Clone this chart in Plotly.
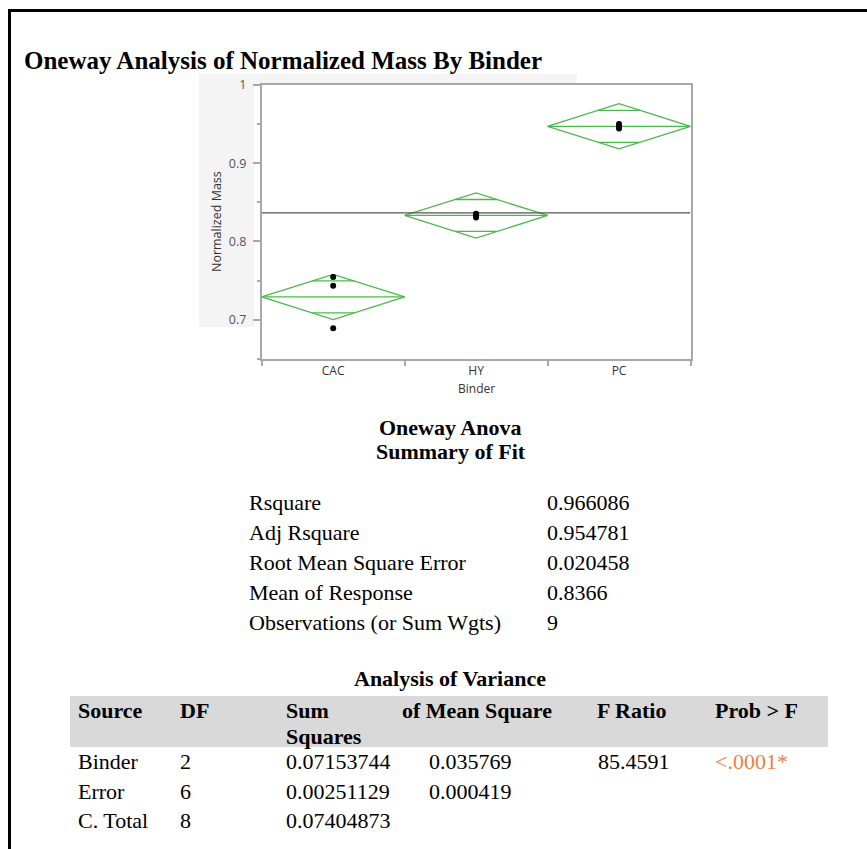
import plotly.graph_objects as go
import math

# ---------------- data ----------------
categories = ["CAC", "HY", "PC"]
cac_values = [0.7545, 0.7434, 0.6890]
hy_values = [0.8355, 0.8335, 0.8305]
pc_values = [0.9500, 0.9470, 0.9445]
group_values = [cac_values, hy_values, pc_values]
grand_mean = 0.8366
rmse = 0.020458
t_crit = 2.4469  # t(0.975, df=6)

y_tick_vals = [0.7, 0.8, 0.9, 1.0]
y_tick_text = ["0.7", "0.8", "0.9", "1"]

summary_labels = ["Rsquare", "Adj Rsquare", "Root Mean Square Error",
                  "Mean of Response", "Observations (or Sum Wgts)"]
summary_values = ["0.966086", "0.954781", "0.020458", "0.8366", "9"]

anova_source = ["Binder", "Error", "C. Total"]
anova_df = ["2", "6", "8"]
anova_ss = ["0.07153744", "0.00251129", "0.07404873"]
anova_ms = ["0.035769", "0.000419", ""]
anova_f = ["85.4591", "", ""]
anova_p = ["<.0001*", "", ""]

# ---------------- figure ----------------
W, H = 867, 849
def px(x):
    return x / W
def py(y):
    return 1 - y / H

GREEN = "#4cb84c"
fig = go.Figure()

for i, vals in enumerate(group_values):
    n = len(vals)
    m = sum(vals) / n
    ci = t_crit * rmse / math.sqrt(n)
    ov = ci / math.sqrt(2)
    half = 0.5
    fig.add_trace(go.Scatter(
        x=[i - half, i, i + half, i, i - half],
        y=[m, m + ci, m, m - ci, m],
        mode="lines", line=dict(color=GREEN, width=1.3),
        hoverinfo="skip", showlegend=False))
    fig.add_trace(go.Scatter(
        x=[i - half, i + half], y=[m, m],
        mode="lines", line=dict(color=GREEN, width=1.3),
        hoverinfo="skip", showlegend=False))
    w = half * (1 - ov / ci)
    for s in (1, -1):
        fig.add_trace(go.Scatter(
            x=[i - w, i + w], y=[m + s * ov, m + s * ov],
            mode="lines", line=dict(color=GREEN, width=1.3),
            hoverinfo="skip", showlegend=False))

fig.add_trace(go.Scatter(
    x=[-0.5, 2.5], y=[grand_mean, grand_mean], mode="lines",
    line=dict(color="#555555", width=1.2), hoverinfo="skip", showlegend=False))

xs, ys = [], []
for i, vals in enumerate(group_values):
    for v in vals:
        xs.append(i)
        ys.append(v)
fig.add_trace(go.Scatter(x=xs, y=ys, mode="markers",
                         marker=dict(color="black", size=6),
                         showlegend=False))

AX = "#a8a8a8"
fig.update_layout(
    width=W, height=H,
    margin=dict(l=0, r=0, t=0, b=0, pad=0, autoexpand=False),
    paper_bgcolor="white", plot_bgcolor="white",
    xaxis=dict(
        domain=[px(261.7), px(690.5)], range=[-0.5, 2.5], automargin=False,
        tickmode="array", tickvals=[0, 1, 2], ticktext=categories,
        ticks="", showgrid=False, zeroline=False,
        showline=True, linecolor=AX, linewidth=1.5, mirror=True,
        tickfont=dict(family="Open Sans", size=12, color="#333333"),
        minor=dict(tickmode="array", tickvals=[-0.5, 0.5, 1.5, 2.5],
                   ticks="outside", ticklen=6, tickcolor=AX, tickwidth=1.5),
    ),
    yaxis=dict(
        domain=[py(358.7), py(85)], range=[0.65, 1.0], automargin=False,
        tickmode="array", tickvals=y_tick_vals, ticktext=y_tick_text,
        ticks="outside", ticklen=7, tickcolor=AX, tickwidth=1.5,
        ticklabelstandoff=4,
        showgrid=False, zeroline=False,
        showline=True, linecolor=AX, linewidth=1.5, mirror=True,
        tickfont=dict(family="Open Sans", size=12.5, color="#555555"),
        minor=dict(tickmode="array", tickvals=[0.65, 0.75, 0.85, 0.95],
                   ticks="outside", ticklen=3, tickcolor=AX, tickwidth=1.5),
    ),
)

shapes = []
shapes.append(dict(type="rect", xref="paper", yref="paper",
                   x0=px(199), x1=px(577), y0=py(84), y1=py(74),
                   fillcolor="#f4f4f4", line_width=0, layer="below"))
shapes.append(dict(type="rect", xref="paper", yref="paper",
                   x0=px(199), x1=px(254), y0=py(327), y1=py(84),
                   fillcolor="#f4f4f4", line_width=0, layer="below"))
shapes.append(dict(type="line", xref="paper", yref="paper",
                   x0=px(8), x1=1, y0=py(10.5), y1=py(10.5),
                   line=dict(color="black", width=3)))
shapes.append(dict(type="line", xref="paper", yref="paper",
                   x0=px(9.5), x1=px(9.5), y0=0, y1=py(9),
                   line=dict(color="black", width=3)))
shapes.append(dict(type="rect", xref="paper", yref="paper",
                   x0=px(70), x1=px(828), y0=py(747), y1=py(696),
                   fillcolor="#d9d9d9", line_width=0, layer="below"))
fig.update_layout(shapes=shapes)

SERIF = "Liberation Serif"
ann = []
def txt(x, y, s, size=22, bold=False, anchor="left", color="black", family=SERIF, angle=0, dy=-0.3):
    t = f"<b>{s}</b>" if bold else s
    ann.append(dict(xref="paper", yref="paper", x=px(x), y=py(y + dy), text=t,
                    showarrow=False, xanchor=anchor, yanchor="middle",
                    textangle=angle,
                    font=dict(family=family, size=size, color=color)))

txt(22, 60, "Oneway Analysis of Normalized Mass By Binder", size=25, bold=True, dy=0)
txt(216, 222, "Normalized Mass", size=12.5, anchor="center", color="#333333",
    family="Open Sans", angle=-90, dy=0)
txt(476, 389, "Binder", size=12, anchor="center", color="#333333", family="Open Sans", dy=0)

txt(450, 428, "Oneway Anova", bold=True, anchor="center")
txt(451, 452, "Summary of Fit", bold=True, anchor="center")
for k, (lab, val) in enumerate(zip(summary_labels, summary_values)):
    yy = 503 + 30 * k
    txt(247, yy, lab)
    txt(545, yy, val)

txt(450, 679, "Analysis of Variance", bold=True, anchor="center")
txt(76, 711, "Source", bold=True)
txt(178, 711, "DF", bold=True)
txt(284, 711, "Sum", bold=True)
txt(284, 737, "Squares", bold=True)
txt(400, 711, "of Mean Square", bold=True)
txt(595, 711, "F Ratio", bold=True)
txt(713, 711, "Prob &gt; F", bold=True)
for r in range(3):
    yy = 762 + 29.5 * r
    txt(76, yy, anova_source[r])
    txt(178, yy, anova_df[r])
    txt(284, yy, anova_ss[r])
    if anova_ms[r]:
        txt(427, yy, anova_ms[r])
    if anova_f[r]:
        txt(596, yy, anova_f[r])
    if anova_p[r]:
        txt(713, yy, anova_p[r].replace("<", "&lt;"), color="#f08040")

fig.update_layout(annotations=ann)
fig.write_html("out.html")
